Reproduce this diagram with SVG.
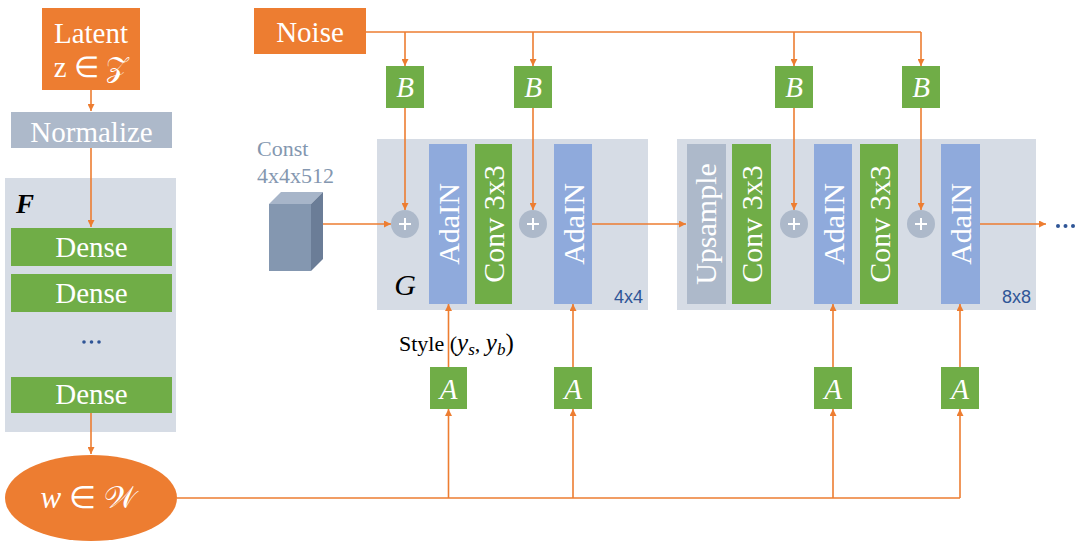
<svg xmlns="http://www.w3.org/2000/svg" width="1078" height="541" viewBox="0 0 1078 541">
<style>
.or{fill:#ED7D31}
.gr{fill:#70AD47}
.ad{fill:#8FAADC}
.gy{fill:#ADB9CA}
.pn{fill:#D6DCE5}
.ln{fill:none;stroke:#ED7D31;stroke-width:1.6}
.t{font-family:"Liberation Serif","Times New Roman",serif;fill:#FFFFFF;text-anchor:middle}
.tl{font-size:29px}
.tv{font-size:30px}
.mi{font-family:"Liberation Serif","DejaVu Serif",serif;font-style:italic}
.sz{font-family:"Liberation Sans",Arial,sans-serif;font-size:18px;fill:#2F5597;text-anchor:end}
.dots{fill:#2F5597}
.pl{fill:#ADB9CA}
.plus{stroke:#FFFFFF;stroke-width:2;fill:none}
</style>
<defs>
<marker id="ah" viewBox="0 0 8 8" refX="8" refY="4" markerWidth="7" markerHeight="7" markerUnits="userSpaceOnUse" orient="auto">
<path d="M0,0 L8,4 L0,8 z" fill="#ED7D31"/>
</marker>
</defs>

<!-- Panels -->
<g id="mapping-F">
<rect class="pn" x="5" y="178" width="171" height="254"/>
<text x="16" y="213" font-family="Liberation Serif,serif" font-style="italic" font-weight="bold" font-size="27" fill="#000">F</text>
</g>
<g id="synthesis-4x4">
<rect class="pn" x="377" y="139" width="271" height="171"/>
<text x="405" y="295" class="mi" font-size="30" fill="#000" text-anchor="middle">G</text>
<text x="643" y="303" class="sz">4x4</text>
</g>
<g id="synthesis-8x8">
<rect class="pn" x="677" y="139" width="359" height="171"/>
<text x="1031" y="303" class="sz">8x8</text>
</g>

<!-- Connectors -->
<g id="connectors">
<path class="ln" d="M91,90 V111" marker-end="url(#ah)"/>
<path class="ln" d="M91,148 V227" marker-end="url(#ah)"/>
<path class="ln" d="M91,413 V454" marker-end="url(#ah)"/>
<path class="ln" d="M366,32 H921"/>
<path class="ln" d="M405,32 V66" marker-end="url(#ah)"/>
<path class="ln" d="M533,32 V66" marker-end="url(#ah)"/>
<path class="ln" d="M794,32 V66" marker-end="url(#ah)"/>
<path class="ln" d="M921,32 V66" marker-end="url(#ah)"/>
<path class="ln" d="M405,108 V210" marker-end="url(#ah)"/>
<path class="ln" d="M533,108 V210" marker-end="url(#ah)"/>
<path class="ln" d="M794,108 V210" marker-end="url(#ah)"/>
<path class="ln" d="M921,108 V210" marker-end="url(#ah)"/>
<path class="ln" d="M323,224 H391" marker-end="url(#ah)"/>
<path class="ln" d="M592,224 H686" marker-end="url(#ah)"/>
<path class="ln" d="M980,224 H1046" marker-end="url(#ah)"/>
<path class="ln" d="M177,498 H960"/>
<path class="ln" d="M448.5,498 V409" marker-end="url(#ah)"/>
<path class="ln" d="M573,498 V409" marker-end="url(#ah)"/>
<path class="ln" d="M833,498 V409" marker-end="url(#ah)"/>
<path class="ln" d="M960,498 V409" marker-end="url(#ah)"/>
<path class="ln" d="M448.5,367 V304" marker-end="url(#ah)"/>
<path class="ln" d="M573,367 V304" marker-end="url(#ah)"/>
<path class="ln" d="M833,367 V304" marker-end="url(#ah)"/>
<path class="ln" d="M960,367 V304" marker-end="url(#ah)"/>
</g>

<!-- Left column -->
<g id="latent">
<rect class="or" x="42" y="8" width="98" height="82"/>
<text class="t tl" x="91" y="43">Latent</text>
<text class="t tl" x="91" y="77">z ∈ 𝒵</text>
</g>
<g id="normalize">
<rect class="gy" x="11" y="112" width="161" height="36"/>
<text class="t tl" x="91.5" y="142" fill="#F2F2F2">Normalize</text>
</g>
<g id="dense1">
<rect class="gr" x="11" y="228" width="161" height="38"/>
<text class="t tl" x="91.5" y="257">Dense</text>
</g>
<g id="dense2">
<rect class="gr" x="11" y="274" width="161" height="38"/>
<text class="t tl" x="91.5" y="303">Dense</text>
</g>
<g id="dense-dots">
<circle class="dots" cx="84" cy="342" r="1.8"/>
<circle class="dots" cx="91.5" cy="342" r="1.8"/>
<circle class="dots" cx="99" cy="342" r="1.8"/>
</g>
<g id="dense3">
<rect class="gr" x="11" y="377" width="161" height="36"/>
<text class="t tl" x="91.5" y="404">Dense</text>
</g>
<g id="w">
<ellipse class="or" cx="91" cy="498" rx="86" ry="43"/>
<text x="88" y="508" font-family="Liberation Serif,serif" font-size="31" fill="#FFFFFF" text-anchor="middle"><tspan font-style="italic">w</tspan> ∈ 𝒲</text>
</g>

<!-- Noise -->
<g id="noise">
<rect class="or" x="254" y="8" width="112" height="46"/>
<text class="t tl" x="310" y="42">Noise</text>
</g>

<!-- Const -->
<g id="const">
<text x="257" y="156" font-family="Liberation Serif,serif" font-size="22" fill="#8497B0">Const</text>
<text x="257" y="183" font-family="Liberation Serif,serif" font-size="22" fill="#8497B0">4x4x512</text>
<polygon points="269,204 281,192 323,192 311,204" fill="#A7B5C9"/>
<polygon points="311,204 323,192 323,259 311,271" fill="#6B7D97"/>
<rect x="269" y="204" width="42" height="67" fill="#8497B0"/>
</g>

<!-- B boxes -->
<g id="B1"><rect class="gr" x="386" y="66" width="38" height="42"/><text class="t mi" x="405" y="97" font-size="29">B</text></g>
<g id="B2"><rect class="gr" x="514" y="66" width="38" height="42"/><text class="t mi" x="533" y="97" font-size="29">B</text></g>
<g id="B3"><rect class="gr" x="775" y="66" width="38" height="42"/><text class="t mi" x="794" y="97" font-size="29">B</text></g>
<g id="B4"><rect class="gr" x="902" y="66" width="38" height="42"/><text class="t mi" x="921" y="97" font-size="29">B</text></g>

<!-- A boxes -->
<g id="A1"><rect class="gr" x="430" y="367" width="37" height="42"/><text class="t mi" x="448.5" y="399" font-size="29">A</text></g>
<g id="A2"><rect class="gr" x="554" y="367" width="38" height="42"/><text class="t mi" x="573" y="399" font-size="29">A</text></g>
<g id="A3"><rect class="gr" x="814" y="367" width="38" height="42"/><text class="t mi" x="833" y="399" font-size="29">A</text></g>
<g id="A4"><rect class="gr" x="941" y="367" width="38" height="42"/><text class="t mi" x="960" y="399" font-size="29">A</text></g>

<!-- Style label -->
<g id="style-label">
<text x="399" y="351" font-family="Liberation Serif,serif" font-size="22" fill="#000">Style (<tspan font-style="italic" font-size="25">y</tspan><tspan font-style="italic" font-size="17" dy="4">s</tspan><tspan dy="-4">, </tspan><tspan font-style="italic" font-size="25">y</tspan><tspan font-style="italic" font-size="17" dy="4">b</tspan><tspan dy="-4" font-size="25">)</tspan></text>
</g>

<!-- 4x4 block layers -->
<g id="add1"><circle class="pl" cx="405" cy="224" r="14"/><path class="plus" d="M399,224 H411 M405,218 V230"/></g>
<g id="adain1"><rect class="ad" x="429" y="144" width="38" height="160"/><text class="t tv" transform="translate(459,224) rotate(-90)">AdaIN</text></g>
<g id="conv1"><rect class="gr" x="475" y="144" width="37" height="160"/><text class="t tv" transform="translate(504,224) rotate(-90)">Conv 3x3</text></g>
<g id="add2"><circle class="pl" cx="533" cy="224" r="14"/><path class="plus" d="M527,224 H539 M533,218 V230"/></g>
<g id="adain2"><rect class="ad" x="554" y="144" width="38" height="160"/><text class="t tv" transform="translate(584,224) rotate(-90)">AdaIN</text></g>

<!-- 8x8 block layers -->
<g id="upsample"><rect class="gy" x="687" y="144" width="39" height="160"/><text class="t tv" fill="#EEF0F4" transform="translate(716,224) rotate(-90)">Upsample</text></g>
<g id="conv2"><rect class="gr" x="732" y="144" width="39" height="160"/><text class="t tv" transform="translate(762,224) rotate(-90)">Conv 3x3</text></g>
<g id="add3"><circle class="pl" cx="794" cy="224" r="14"/><path class="plus" d="M788,224 H800 M794,218 V230"/></g>
<g id="adain3"><rect class="ad" x="814" y="144" width="38" height="160"/><text class="t tv" transform="translate(844,224) rotate(-90)">AdaIN</text></g>
<g id="conv3"><rect class="gr" x="860" y="144" width="38" height="160"/><text class="t tv" transform="translate(890,224) rotate(-90)">Conv 3x3</text></g>
<g id="add4"><circle class="pl" cx="921" cy="224" r="14"/><path class="plus" d="M915,224 H927 M921,218 V230"/></g>
<g id="adain4"><rect class="ad" x="941" y="144" width="39" height="160"/><text class="t tv" transform="translate(971,224) rotate(-90)">AdaIN</text></g>

<g id="more">
<circle class="dots" cx="1058" cy="226" r="2"/>
<circle class="dots" cx="1065.5" cy="226" r="2"/>
<circle class="dots" cx="1073" cy="226" r="2"/>
</g>
</svg>
